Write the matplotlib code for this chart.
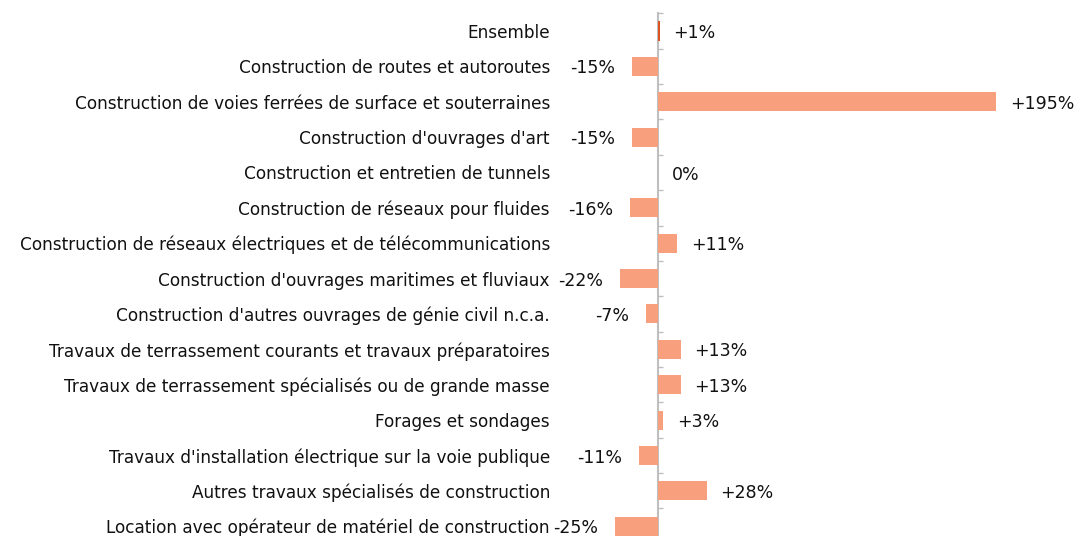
import matplotlib

matplotlib.use("Agg")

import matplotlib.pyplot as plt
import numpy as np

categories = [
    "Ensemble",
    "Construction de routes et autoroutes",
    "Construction de voies ferrées de surface et souterraines",
    "Construction d'ouvrages d'art",
    "Construction et entretien de tunnels",
    "Construction de réseaux pour fluides",
    "Construction de réseaux électriques et de télécommunications",
    "Construction d'ouvrages maritimes et fluviaux",
    "Construction d'autres ouvrages de génie civil n.c.a.",
    "Travaux de terrassement courants et travaux préparatoires",
    "Travaux de terrassement spécialisés ou de grande masse",
    "Forages et sondages",
    "Travaux d'installation électrique sur la voie publique",
    "Autres travaux spécialisés de construction",
    "Location avec opérateur de matériel de construction",
]
values = [1, -15, 195, -15, 0, -16, 11, -22, -7, 13, 13, 3, -11, 28, -25]

BAR_COLOR = "#F8A07E"
TOTAL_COLOR = "#D9541E"
AXIS_COLOR = "#BFBFBF"

plt.rcParams["font.family"] = ["DejaVu Sans"]

W, H = 1077, 536
zero_px, px_per_unit = 658, (996 - 658) / 195
left_px, top_px, row_px = 560, 13.3, 35.37

fig = plt.figure(figsize=(W / 100, H / 100), dpi=100)
n = len(categories)
bottom_px = top_px + n * row_px
ax = fig.add_axes([left_px / W, (H - bottom_px) / H, (W - left_px) / W, (bottom_px - top_px) / H])
ax.set_xlim(-(zero_px - left_px) / px_per_unit, (W - zero_px) / px_per_unit)
ax.set_ylim(n - 0.5, -0.5)

y = np.arange(n)
colors = [TOTAL_COLOR if i == 0 else BAR_COLOR for i in range(n)]
ax.barh(y, values, height=0.54, color=colors, zorder=3)

for yi, v in zip(y, values):
    label = f"+{v}%" if v > 0 else f"{v}%"
    if v < 0:
        ax.annotate(label, (v, yi), xytext=(-12, -1.5), textcoords="offset points",
                    ha="right", va="center", fontsize=12.5, color="#111111")
    else:
        ax.annotate(label, (v, yi), xytext=(10, -1.5), textcoords="offset points",
                    ha="left", va="center", fontsize=12.5, color="#111111")

for side in ("top", "right", "bottom"):
    ax.spines[side].set_visible(False)
ax.spines["left"].set_position(("data", 0))
ax.spines["left"].set_color(AXIS_COLOR)
ax.spines["left"].set_linewidth(1.5)
ax.spines["left"].set_zorder(1)

ax.set_xticks([])
ax.set_yticks(y)
ax.set_yticklabels(categories, fontsize=12.2, color="#111111")
ax.tick_params(axis="y", which="major", length=0, pad=77.8)
ax.set_yticks(np.arange(n + 1) - 0.5, minor=True)
ax.tick_params(axis="y", which="minor", direction="in", length=3.6, width=1, color=AXIS_COLOR)

fig.savefig("out.png", dpi=100, facecolor="white")
